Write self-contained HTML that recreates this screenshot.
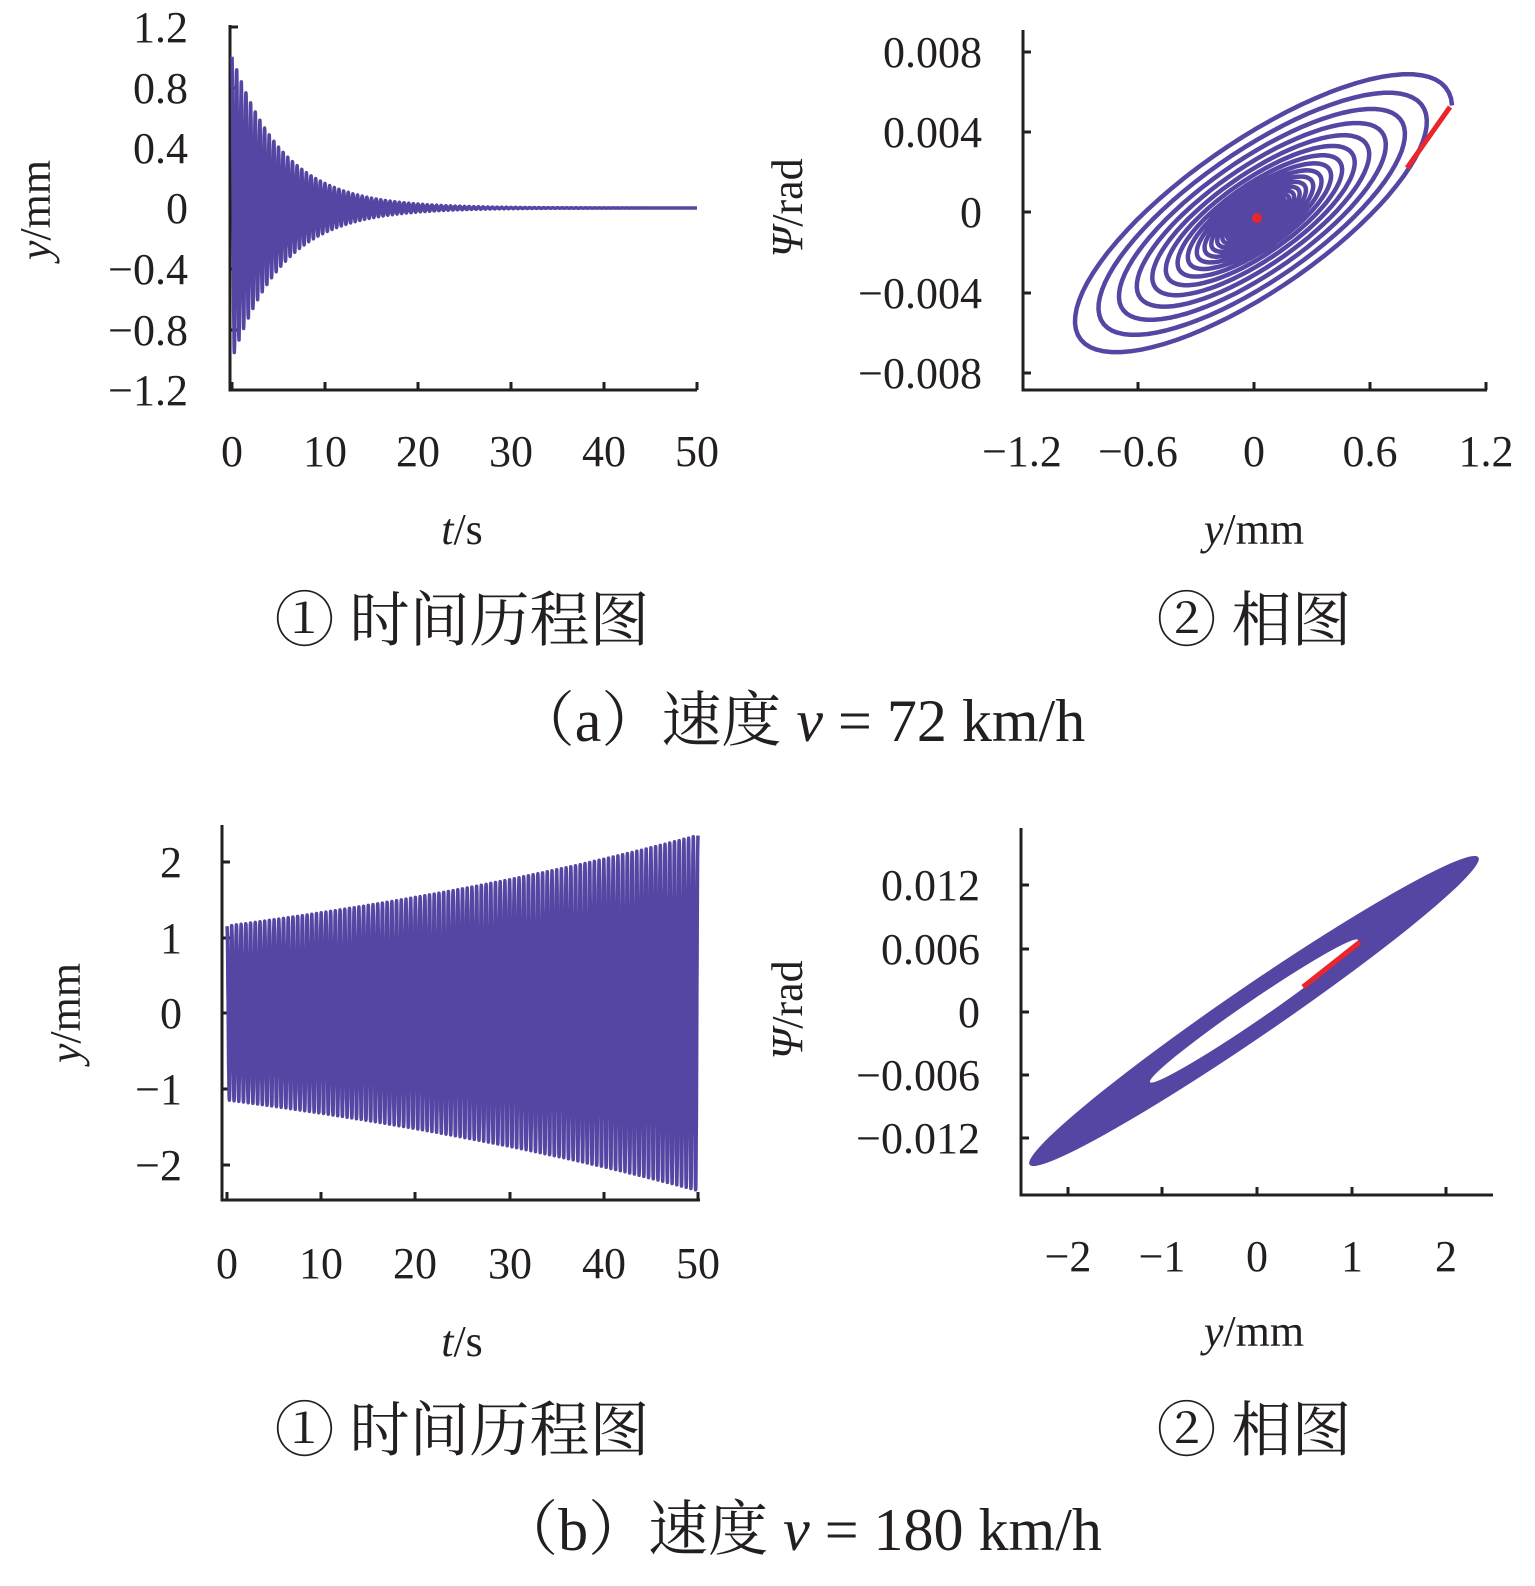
<!DOCTYPE html>
<html><head><meta charset="utf-8">
<style>
body{margin:0;background:#fff}
svg text{font-family:"Liberation Serif","Noto Serif CJK SC",serif;fill:#231f20}
.t{font-size:44px}
.c{font-family:"Liberation Serif","Noto Serif CJK SC","Noto Sans CJK SC",serif;font-size:60px}
</style></head><body>
<svg id="s" width="1535" height="1581" xmlns="http://www.w3.org/2000/svg">
<g stroke="#231f20" stroke-width="3" fill="none">
<path d="M230 25V390H697"/>
<path d="M230 27h8M230 88h8M230 148h8M230 208h8M230 269h8M230 330h8M230 390h8"/>
<path d="M232 390v-8M325 390v-8M418 390v-8M511 390v-8M604 390v-8M697 390v-8"/>
<path d="M1023 30V390H1487"/>
<path d="M1023 52h8M1023 132h8M1023 212h8M1023 293h8M1023 373h8"/>
<path d="M1138 390v-8M1254 390v-8M1370 390v-8M1486 390v-8"/>
<path d="M222 825V1200H700"/>
<path d="M222 862h8M222 938h8M222 1013h8M222 1089h8M222 1165h8"/>
<path d="M227 1200v-8M321 1200v-8M415 1200v-8M510 1200v-8M604 1200v-8M698 1200v-8"/>
<path d="M1021 828V1195H1493"/>
<path d="M1021 885h8M1021 949h8M1021 1012h8M1021 1075h8M1021 1138h8"/>
<path d="M1068 1195v-8M1162 1195v-8M1257 1195v-8M1352 1195v-8M1446 1195v-8"/>
</g>
<g id="series" fill="none" stroke="#5546a3" stroke-width="3.5" stroke-linejoin="round"></g>
<g transform="translate(1254 1011) rotate(-34.4)">
<ellipse rx="272" ry="25" fill="#5546a3"/>
<ellipse rx="126" ry="10" fill="#fff"/>
</g>
<path d="M1450 107L1407 168" stroke="#e8262b" stroke-width="5"/>
<path d="M1360 942L1303 987" stroke="#e8262b" stroke-width="5"/>
<circle cx="1257" cy="218" r="5" fill="#e8262b"/>
<g class="t" text-anchor="end">
<text x="188" y="42">1.2</text><text x="188" y="103">0.8</text><text x="188" y="163">0.4</text><text x="188" y="223">0</text><text x="188" y="284">−0.4</text><text x="188" y="345">−0.8</text><text x="188" y="405">−1.2</text>
<text x="982" y="67">0.008</text><text x="982" y="147">0.004</text><text x="982" y="227">0</text><text x="982" y="308">−0.004</text><text x="982" y="388">−0.008</text>
<text x="182" y="877">2</text><text x="182" y="953">1</text><text x="182" y="1028">0</text><text x="182" y="1104">−1</text><text x="182" y="1180">−2</text>
<text x="980" y="900">0.012</text><text x="980" y="964">0.006</text><text x="980" y="1027">0</text><text x="980" y="1090">−0.006</text><text x="980" y="1153">−0.012</text>
</g>
<g class="t" text-anchor="middle">
<text x="232" y="466">0</text><text x="325" y="466">10</text><text x="418" y="466">20</text><text x="511" y="466">30</text><text x="604" y="466">40</text><text x="697" y="466">50</text>
<text x="1022" y="466">−1.2</text><text x="1138" y="466">−0.6</text><text x="1254" y="466">0</text><text x="1370" y="466">0.6</text><text x="1486" y="466">1.2</text>
<text x="227" y="1278">0</text><text x="321" y="1278">10</text><text x="415" y="1278">20</text><text x="510" y="1278">30</text><text x="604" y="1278">40</text><text x="698" y="1278">50</text>
<text x="1068" y="1271">−2</text><text x="1162" y="1271">−1</text><text x="1257" y="1271">0</text><text x="1352" y="1271">1</text><text x="1446" y="1271">2</text>
<text x="462" y="544"><tspan font-style="italic">t</tspan>/s</text>
<text x="1254" y="544"><tspan font-style="italic">y</tspan>/mm</text>
<text x="462" y="1356"><tspan font-style="italic">t</tspan>/s</text>
<text x="1254" y="1346"><tspan font-style="italic">y</tspan>/mm</text>
<text transform="translate(50 210) rotate(-90)"><tspan font-style="italic">y</tspan>/mm</text>
<text transform="translate(802 208) rotate(-90)"><tspan font-style="italic">Ψ</tspan>/rad</text>
<text transform="translate(80 1013) rotate(-90)"><tspan font-style="italic">y</tspan>/mm</text>
<text transform="translate(802 1010) rotate(-90)"><tspan font-style="italic">Ψ</tspan>/rad</text>
</g>
<g class="c" text-anchor="middle">
<text x="462" y="641">① 时间历程图</text>
<text x="1254" y="641">② 相图</text>
<text x="800" y="741">（a）速度 <tspan font-style="italic">v</tspan> = 72 km/h</text>
<text x="462" y="1451">① 时间历程图</text>
<text x="1254" y="1451">② 相图</text>
<text x="800" y="1550">（b）速度 <tspan font-style="italic">v</tspan> = 180 km/h</text>
</g>
</svg>
<script>
var g=document.getElementById('series'),NS='http://www.w3.org/2000/svg';
function add(d,w){var p=document.createElementNS(NS,'path');p.setAttribute('d',d);if(w)p.setAttribute('stroke-width',w);g.appendChild(p);}
var d='',i,t,x,y;
for(i=0;i<=4000;i++){t=i/4000*50;var A=1.0*Math.exp(-t/5.5);y=208-60.5/0.4*A*Math.cos(2*Math.PI*2*t);x=232+t*9.3;d+=(i?'L':'M')+x.toFixed(1)+' '+y.toFixed(1);}
add(d);
d='';
for(i=0;i<=4000;i++){t=i/4000*50;var A=1.15*Math.exp(t/50*Math.log(2.35/1.15));y=1013-75.5*A*Math.cos(2*Math.PI*2*t);x=227+t*9.42;d+=(i?'L':'M')+x.toFixed(1)+' '+y.toFixed(1);}
add(d);
d='';var N=40,M=N*80;
for(i=0;i<=M;i++){var th=i/M*N*2*Math.PI;var e=Math.exp(-0.022*th);x=1257+195*e*Math.cos(th);y=218-146*e*Math.cos(th-0.69);d+=(i?'L':'M')+x.toFixed(1)+' '+y.toFixed(1);}
add(d,4.5);
</script>
</body></html>
